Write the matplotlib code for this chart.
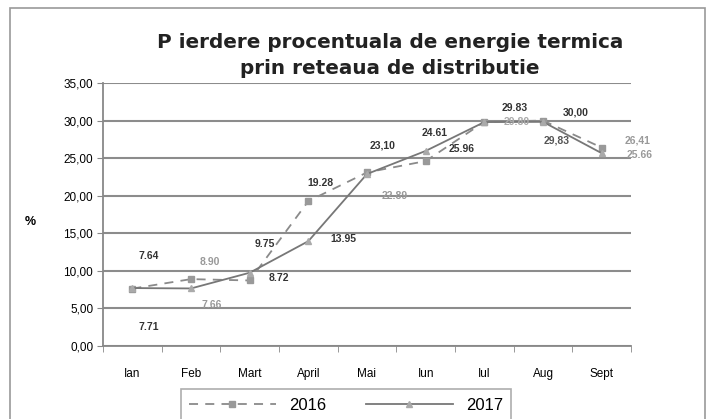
import matplotlib
matplotlib.use("Agg")
import matplotlib.pyplot as plt
from matplotlib.patches import Rectangle

plt.rcParams['font.family'] = ['Liberation Sans', 'DejaVu Sans']

months = ["Ian", "Feb", "Mart", "April", "Mai", "Iun", "Iul", "Aug", "Sept"]
v2016 = [7.64, 8.90, 8.72, 19.28, 23.10, 24.61, 29.83, 30.00, 26.41]
v2017 = [7.71, 7.66, 9.75, 13.95, 22.89, 25.96, 29.80, 29.83, 25.66]
lab2016 = ["7.64", "8.90", "8.72", "19.28", "23,10", "24.61", "29.83", "30,00", "26,41"]
lab2017 = ["7.71", "7.66", "9.75", "13.95", "22.89", "25.96", "29.80", "29,83", "25.66"]
yticks = [0, 5, 10, 15, 20, 25, 30, 35]

# label offsets in pixels (dx, dy) relative to the point
off2016 = [(16, 33), (19, 17), (29, 2), (12, 18), (16, 27), (9, 28), (30, 14), (33, 8), (36, 7)]
off2017 = [(16, -39), (21, -17), (15, 29), (35, 2), (28, -22), (36, 2), (32, 0), (14, -19), (38, -2)]
col2016 = ["#333", "#999", "#333", "#333", "#333", "#333", "#333", "#333", "#999"]
col2017 = ["#333", "#999", "#333", "#333", "#999", "#333", "#aaa", "#555", "#999"]

fig = plt.figure(figsize=(7.10, 4.19), dpi=100)
ax = fig.add_axes([103/710, 1-346/419, (631-103)/710, (346-83)/419])

x = list(range(len(months)))
l1, = ax.plot(x, v2016, color="#8a8a8a", lw=1.3, ls=(0, (5, 4)), marker="s",
              ms=4.5, mfc="#999", mec="#999", zorder=3, label="2016")
l2, = ax.plot(x, v2017, color="#777", lw=1.3, ls="-", marker="^",
              ms=4.5, mfc="#aaa", mec="#aaa", zorder=3, label="2017")

for i in x:
    ax.annotate(lab2016[i], (i, v2016[i]), xytext=off2016[i], textcoords="offset pixels",
                ha="center", va="center", fontsize=7.5, fontweight="bold", color=col2016[i])
    ax.annotate(lab2017[i], (i, v2017[i]), xytext=off2017[i], textcoords="offset pixels",
                ha="center", va="center", fontsize=7.5, fontweight="bold", color=col2017[i])

ax.set_xlim(-0.5, len(months) - 0.5)
ax.set_ylim(0, 35)
ax.set_yticks(yticks)
ax.set_yticklabels([f"{t:.2f}".replace(".", ",") for t in yticks], fontsize=8.5)
ax.set_xticks(x)
ax.set_xticklabels(months, fontsize=8.5)
ax.set_xticks([i - 0.5 for i in range(len(months) + 1)], minor=True)
ax.tick_params(axis="x", which="major", length=0, pad=16)
ax.tick_params(axis="x", which="minor", length=4, color="#888", direction="out")
ax.tick_params(axis="y", length=4, color="#888", direction="out", pad=3)
ax.grid(axis="y", color="#8c8c8c", lw=1.5)
ax.set_axisbelow(True)
for s in ["top", "right"]:
    ax.spines[s].set_visible(False)
for s in ["left", "bottom"]:
    ax.spines[s].set_color("#888")
    ax.spines[s].set_linewidth(1.3)

fig.text(30/710, 1-222/419, "%", fontsize=9, fontweight="bold", ha="center", va="center")
fig.text(390/710, 1-43/419, "P ierdere procentuala de energie termica",
         fontsize=14.4, fontweight="bold", ha="center", va="center", color="#222",
         family="DejaVu Sans")
fig.text(390/710, 1-68/419, "prin reteaua de distributie",
         fontsize=14.4, fontweight="bold", ha="center", va="center", color="#222",
         family="DejaVu Sans")

fig.patches.append(Rectangle((10/710, -0.05), 695/710, 1.05 - 8/419, transform=fig.transFigure,
                             fill=False, edgecolor="#999", lw=1.2))

leg = fig.legend(handles=[l1, l2], loc="center", bbox_to_anchor=(346/710, 1-405/419),
                 ncol=2, fontsize=12, handlelength=5.2, columnspacing=2.4,
                 frameon=True, fancybox=False, edgecolor="#999", borderpad=0.5)
leg.get_frame().set_linewidth(1.2)

fig.savefig("out.png", dpi=100, facecolor="white")
